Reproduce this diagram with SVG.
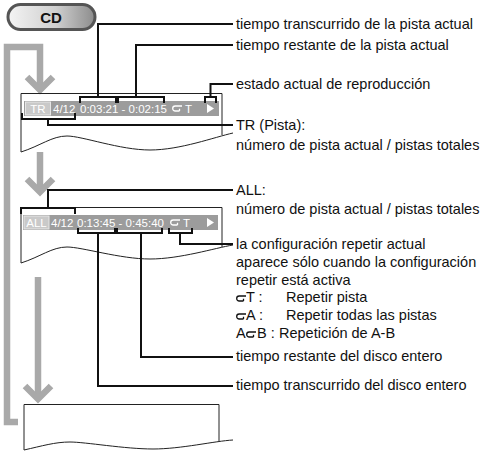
<svg xmlns="http://www.w3.org/2000/svg" width="484" height="452" viewBox="0 0 484 452">
<defs>
<linearGradient id="cdg" x1="0" y1="0" x2="1" y2="0">
<stop offset="0" stop-color="#f4f4f4"/>
<stop offset="0.55" stop-color="#cfcfcf"/>
<stop offset="1" stop-color="#8c8c8c"/>
</linearGradient>
<symbol id="rep" viewBox="0 0 10 7" overflow="visible">
<path d="M10,1 H3.2 A2.5,2.5 0 0 0 3.2,6 H7.5 M7.5,6 L7.5,3.8" fill="none" stroke-width="1.3"/>
</symbol>
<style>
.lbl{font-family:"Liberation Sans",Arial,sans-serif;font-size:14.5px;fill:#111}
.bar{fill:#9c9c9c}
.tag{fill:#c9c9c9;stroke:#e6e6e6;stroke-width:1}
.bt{font-family:"Liberation Sans",Arial,sans-serif;font-size:11.5px;fill:#fff}
.box{fill:none;stroke:#222;stroke-width:1}
.co{fill:none;stroke:#111;stroke-width:2;stroke-linejoin:miter}
.ga{fill:none;stroke:#a9a9a9;stroke-width:6.5;stroke-linejoin:miter;stroke-linecap:butt}
</style>
</defs>

<g id="cd-button">
<rect x="8" y="4.5" width="87" height="25" rx="12.5" fill="url(#cdg)" stroke="#555" stroke-width="3"/>
<text x="51" y="22.5" text-anchor="middle" style="font-family:'Liberation Sans',Arial,sans-serif;font-size:15px;font-weight:bold;fill:#111">CD</text>
</g>

<g id="flow-arrows">
<path class="ga" d="M18,422 H7 V47 H40 V88"/>
<polyline class="ga" points="27,77 40,90 53,77"/>
<path class="ga" d="M40,152 V191"/>
<polyline class="ga" points="27,179 40,192 53,179"/>
<path class="ga" d="M38,277 V398"/>
<polyline class="ga" points="25,386 38,399 51,386"/>
</g>

<g id="display-track">
<path class="box" d="M21,152 V93.5 H222 V135"/>
<path class="box" d="M21,152 C40,146 52,136 67,136 S120,150 150,150 S215,137 233,133"/>
<rect class="bar" x="24" y="101" width="195" height="15"/>
<rect class="tag" x="25.5" y="102" width="25" height="13"/>
<text class="bt" x="38" y="113" text-anchor="middle">TR</text>
<text class="bt" x="53" y="113">4/12</text>
<text class="bt" x="80" y="113">0:03:21 - 0:02:15</text>
<use href="#rep" x="172" y="105" width="10" height="7" stroke="#fff"/>
<text class="bt" x="185" y="113">T</text>
<polygon points="207,104 214,108.5 207,113" fill="#fff"/>
</g>

<g id="display-all">
<path class="box" d="M21,263 V207.5 H222 V247"/>
<path class="box" d="M21,263 C40,257 52,247 67,247 S120,259 150,259 S215,248 233,245"/>
<rect class="bar" x="23" y="215" width="195" height="15"/>
<rect class="tag" x="24" y="216" width="25" height="13"/>
<text class="bt" x="36.5" y="227" text-anchor="middle">ALL</text>
<text class="bt" x="51" y="227">4/12</text>
<text class="bt" x="77" y="227">0:13:45 - 0:45:40</text>
<use href="#rep" x="170" y="219" width="10" height="7" stroke="#fff"/>
<text class="bt" x="183" y="227">T</text>
<polygon points="207,218 214,222.5 207,227" fill="#fff"/>
</g>

<g id="display-empty">
<path class="box" d="M24,450 V404.5 H219 V441"/>
<path class="box" d="M24,450 C42,446 55,442 70,442 S125,449 153,449 S215,441 233,440"/>
</g>

<g id="connectors">
<path class="co" d="M80,103 V97 H116 V103 M98,97 V24 H233"/>
<path class="co" d="M118,103 V97 H164 V103 M136,97 V45 H233"/>
<path class="co" d="M205,103 V97 H216 V103 M210.5,97 V84 H233"/>
<path class="co" d="M22,113 V119 H75 V113 M48,119 V125 H233"/>
<path class="co" d="M21,214 V208 H75 V214 M48,208 V190 H233"/>
<path class="co" d="M169,228 V233 H192 V228 M180,233 V244 H233"/>
<path class="co" d="M117,228 V233 H162 V228 M141,233 V357 H233"/>
<path class="co" d="M78,228 V233 H115 V228 M98,233 V386 H233"/>
</g>

<g id="labels">
<text class="lbl" x="236" y="29">tiempo transcurrido de la pista actual</text>
<text class="lbl" x="236" y="50">tiempo restante de la pista actual</text>
<text class="lbl" x="236" y="89">estado actual de reproducción</text>
<text class="lbl" x="236" y="130">TR (Pista):</text>
<text class="lbl" x="236" y="150">número de pista actual / pistas totales</text>
<text class="lbl" x="236" y="195">ALL:</text>
<text class="lbl" x="236" y="214">número de pista actual / pistas totales</text>
<text class="lbl" x="236" y="249">la configuración repetir actual</text>
<text class="lbl" x="236" y="267">aparece sólo cuando la configuración</text>
<text class="lbl" x="236" y="285">repetir está activa</text>
<use href="#rep" x="236" y="295" width="10" height="7" stroke="#111"/>
<text class="lbl" x="246" y="302">T :</text>
<text class="lbl" x="286" y="302">Repetir pista</text>
<use href="#rep" x="236" y="313" width="10" height="7" stroke="#111"/>
<text class="lbl" x="246" y="320">A :</text>
<text class="lbl" x="286" y="320">Repetir todas las pistas</text>
<text class="lbl" x="236" y="338">A</text>
<use href="#rep" x="246" y="331" width="10" height="7" stroke="#111"/>
<text class="lbl" x="257" y="338">B :</text>
<text class="lbl" x="279" y="338">Repetición de A-B</text>
<text class="lbl" x="236" y="361">tiempo restante del disco entero</text>
<text class="lbl" x="236" y="390">tiempo transcurrido del disco entero</text>
</g>
</svg>
